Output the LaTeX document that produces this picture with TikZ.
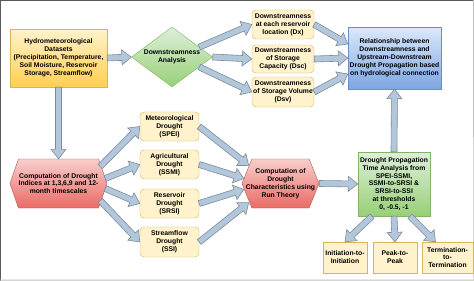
\documentclass[tikz,border=0pt]{standalone}
\usepackage{fontspec}
\setmainfont{Liberation Sans}
\usetikzlibrary{calc, positioning}
\usetikzlibrary{shapes.geometric, shapes.symbols}
\definecolor{ylwtop}{HTML}{FFF2CC}
\definecolor{ylwbot}{HTML}{FFCF4F}
\definecolor{ylwline}{HTML}{D6B656}
\definecolor{grntop}{HTML}{DDEFD9}
\definecolor{grnbot}{HTML}{97D077}
\definecolor{grnline}{HTML}{82B366}
\definecolor{blutop}{HTML}{DAE8FC}
\definecolor{blubot}{HTML}{7EA6E0}
\definecolor{bluline}{HTML}{6C8EBF}
\definecolor{redtop}{HTML}{F8CECC}
\definecolor{redbot}{HTML}{EA6B66}
\definecolor{redline}{HTML}{B85450}
\definecolor{arrfill}{HTML}{B3C7DB}
\definecolor{arrline}{HTML}{7D8C9C}

\newcommand{\fatarrow}[2]{%
\filldraw[arrowbody] let \p1=(#1), \p2=(#2), \n1={atan2(\y2-\y1,\x2-\x1)}, \n2={veclen(\x2-\x1,\y2-\y1)} in
  [shift={(\x1,\y1)}, rotate=\n1]
  (0pt,-3pt) -- ({(\n2-9.5)*1pt},-3pt) -- ({(\n2-9.5)*1pt},-7.5pt) -- ({\n2*1pt},0pt)
  -- ({(\n2-9.5)*1pt},7.5pt) -- ({(\n2-9.5)*1pt},3pt) -- (0pt,3pt) -- cycle;}

\begin{document}
\begin{tikzpicture}[x=1pt, y=-1pt,
  every node/.style={font=\fontsize{6.8}{7.9}\selectfont\bfseries, align=center, inner sep=1pt},
  arrowbody/.style={fill=arrfill, draw=arrline, line width=0.6pt},
  databox/.style={rectangle, draw=ylwline, top color=ylwtop, bottom color=ylwbot, minimum width=97pt, minimum height=58pt},
  dbox/.style={rectangle, rounded corners=4pt, draw=ylwline, fill=ylwtop, minimum width=62pt, minimum height=29pt},
  idxbox/.style={rectangle, rounded corners=4pt, draw=ylwline, fill=ylwtop, minimum width=59pt, minimum height=29pt},
  lagbox/.style={rectangle, draw=ylwline, fill=ylwtop, minimum height=31pt},
  grnshade/.style={draw=grnline, top color=grntop, bottom color=grnbot},
  hexbox/.style={signal, signal to=east and west, draw=redline, top color=redtop, bottom color=redbot, minimum height=49pt}]
\useasboundingbox (0,0) rectangle (474,281);
\fill[white] (0,0) rectangle (474,281);
\draw[black!65, line width=1.2pt] (0,281) -- (0,0) -- (474,0);
\draw[black!25, line width=1pt] (0,280) -- (474,280) -- (473.5,0);

\node[databox] (hyd) at (58.5,58) {Hydrometeorological\\Datasets\\(Precipitation, Temperature,\\Soil Moisture, Reservoir\\Storage, Streamflow)};
\node[diamond, grnshade, minimum width=81pt, minimum height=60pt, aspect=1.35, inner sep=0pt] (ana) at (172,57) {Downstreamness\\Analysis};
\node[dbox] (dx) at (283,24.5) {Downstreamness\\at each reservoir\\location (Dx)};
\node[dbox, minimum height=28pt] (dsc) at (283,59) {Downstreamness\\of Storage\\Capacity (Dsc)};
\node[dbox, minimum height=30pt] (dsv) at (283,92) {Downstreamness\\of Storage Volume\\(Dsv)};
\node[rectangle, draw=bluline, top color=blutop, bottom color=blubot, minimum width=93pt, minimum height=62pt, inner sep=0pt] (rel) at (394.5,58) {Relationship between\\Downstreamness and\\Upstream-Downstream\\Drought Propagation based\\on hydrological connection};

\node[hexbox, signal pointer angle=142, inner xsep=-3pt, minimum width=97pt] (hexA) at (58.5,183.5) {Computation of Drought\\Indices at 1,3,6,9 and 12-\\month timescales};
\node[idxbox] (spei) at (169.5,126.5) {Meteorological\\Drought\\(SPEI)};
\node[idxbox] (ssmi) at (169.5,164.5) {Agricultural\\Drought\\(SSMI)};
\node[idxbox] (srsi) at (169.5,203.5) {Reservoir\\Drought\\(SRSI)};
\node[idxbox, minimum height=30pt] (ssi) at (169.5,242) {Streamflow\\Drought\\(SSI)};
\node[hexbox, signal pointer angle=136, inner xsep=-8pt, minimum width=77pt] (hexB) at (280.5,183.5) {Computation of\\Drought\\Characteristics using\\Run Theory};
\node[rectangle, grnshade, minimum width=72pt, minimum height=64pt] (prop) at (394,184) {Drought Propagation\\Time Analysis from\\SPEI-SSMI,\\SSMI-to-SRSI \&\\SRSI-to-SSI\\at thresholds\\0, -0.5, -1};
\node[lagbox, minimum width=44pt] (init) at (345,257.5) {Initiation-to-\\Initiation};
\node[lagbox, minimum width=44pt] (peak) at (395,257.5) {Peak-to-\\Peak};
\node[lagbox, minimum width=51pt] (term) at (447.5,257.5) {Termination-\\to-\\Termination};

\fatarrow{hyd.east}{ana.west}
\fatarrow{ana.20}{dx.west}
\fatarrow{ana.east}{dsc.west}
\fatarrow{ana.-20}{dsv.west}
\fatarrow{dx.east}{[yshift=14pt]rel.west}
\fatarrow{dsc.east}{rel.west}
\fatarrow{dsv.east}{[yshift=-16pt]rel.west}
\fatarrow{hyd.south}{hexA.north}
\fatarrow{[xshift=-7pt,yshift=17pt]hexA.east}{spei.west}
\fatarrow{[xshift=-2pt,yshift=5pt]hexA.east}{ssmi.west}
\fatarrow{[xshift=-2pt,yshift=-5pt]hexA.east}{srsi.west}
\fatarrow{[xshift=-7pt,yshift=-17pt]hexA.east}{ssi.west}
\fatarrow{spei.east}{[xshift=7pt,yshift=18pt]hexB.west}
\fatarrow{ssmi.east}{[xshift=2pt,yshift=5pt]hexB.west}
\fatarrow{srsi.east}{[xshift=2pt,yshift=-6pt]hexB.west}
\fatarrow{ssi.east}{[xshift=7pt,yshift=-19pt]hexB.west}
\fatarrow{hexB.east}{prop.west}
\fatarrow{prop.north}{rel.south}
\fatarrow{[xshift=-22pt]prop.south}{init.north}
\fatarrow{prop.south}{peak.north}
\fatarrow{[xshift=16pt]prop.south}{[xshift=-12pt]term.north}
\end{tikzpicture}
\end{document}
